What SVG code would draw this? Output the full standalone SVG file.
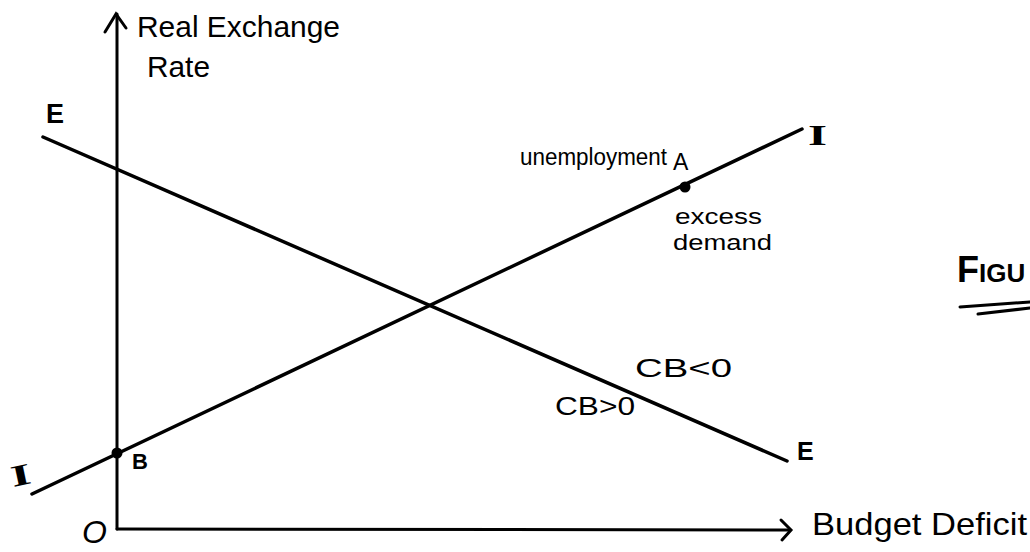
<svg xmlns="http://www.w3.org/2000/svg" width="1030" height="552" viewBox="0 0 1030 552">
<defs>
<style>
.ln{stroke:#000;stroke-width:3.5;stroke-linecap:round;fill:none}
.ax{stroke:#000;stroke-width:3;stroke-linecap:round;fill:none}
.t{font-family:"Liberation Sans",Arial,sans-serif;fill:#000}
.hb{font-family:"Liberation Sans",Arial,sans-serif;font-weight:bold;fill:#000}
.sf{font-family:"Liberation Serif","Times New Roman",serif;font-weight:bold;fill:#000}
</style>
</defs>
<rect width="1030" height="552" fill="#fff"/>
<g id="axes">
<path class="ax" d="M117,529 L117,14"/>
<path class="ax" d="M105,32 L116,14 L126,28"/>
<path class="ax" d="M117,529 L790,530"/>
<path class="ax" d="M781,520 L791,530 L782,540"/>
<text class="t" x="137" y="37" font-size="29" textLength="203" lengthAdjust="spacingAndGlyphs">Real Exchange</text>
<text class="t" x="147" y="77" font-size="29" textLength="63" lengthAdjust="spacingAndGlyphs">Rate</text>
<text class="t" x="812" y="535" font-size="32" textLength="215" lengthAdjust="spacingAndGlyphs">Budget Deficit</text>
<text class="t" x="82" y="543" font-size="32" font-style="italic">O</text>
</g>
<g id="curve-EE">
<path class="ln" d="M43,137 L787,461"/>
<text class="hb" x="46" y="123" font-size="27">E</text>
<text class="hb" x="797" y="460" font-size="25">E</text>
</g>
<g id="curve-II">
<path class="ln" d="M32,494 L802,129"/>
<text class="sf" x="808" y="145" font-size="30" textLength="19" lengthAdjust="spacingAndGlyphs">I</text>
<text class="sf" x="0" y="0" font-size="30" textLength="20" lengthAdjust="spacingAndGlyphs" transform="translate(13,487) rotate(-12)">I</text>
</g>
<g id="point-A">
<circle cx="685" cy="187" r="5.5" fill="#000"/>
<text class="t" x="520" y="165" font-size="23" textLength="147" lengthAdjust="spacingAndGlyphs">unemployment</text>
<text class="t" x="673" y="170" font-size="23">A</text>
<text class="t" x="675" y="224" font-size="22" textLength="87" lengthAdjust="spacingAndGlyphs">excess</text>
<text class="t" x="673" y="250" font-size="22" textLength="99" lengthAdjust="spacingAndGlyphs">demand</text>
</g>
<g id="point-B">
<circle cx="117" cy="453" r="5.5" fill="#000"/>
<text class="hb" x="132" y="469" font-size="22">B</text>
</g>
<g id="labels-CB">
<text class="t" x="635" y="377" font-size="26" textLength="97" lengthAdjust="spacingAndGlyphs">CB&lt;0</text>
<text class="t" x="555" y="415" font-size="26" textLength="80" lengthAdjust="spacingAndGlyphs">CB&gt;0</text>
</g>
<g id="figure-label">
<text class="hb" x="957" y="282" font-size="36">F<tspan font-size="26">IGU</tspan></text>
<path class="ax" d="M960,307 L1030,302"/>
<path class="ax" d="M978,314 L1030,308"/>
</g>
</svg>
